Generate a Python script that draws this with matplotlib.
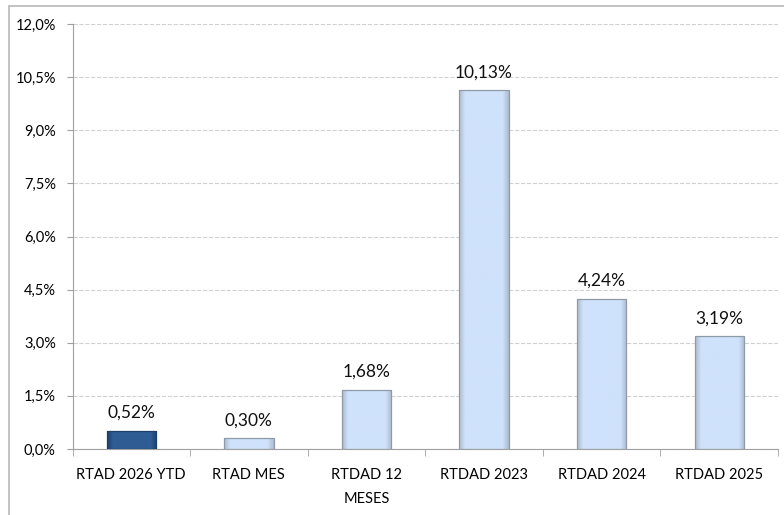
import matplotlib.pyplot as plt
import numpy as np
from matplotlib.patches import Rectangle
from matplotlib.colors import to_rgb
from matplotlib.ticker import FuncFormatter

plt.rcParams['font.family'] = ['Lato', 'DejaVu Sans']

categories = ['RTAD 2026 YTD', 'RTAD MES', 'RTDAD 12\nMESES', 'RTDAD 2023', 'RTDAD 2024', 'RTDAD 2025']
values = [0.52, 0.30, 1.68, 10.13, 4.24, 3.19]
labels = ['0,52%', '0,30%', '1,68%', '10,13%', '4,24%', '3,19%']
yticks = [0, 1.5, 3.0, 4.5, 6.0, 7.5, 9.0, 10.5, 12.0]

colors = ['#2F5D93'] + ['#CFE2FB'] * 5
edges = ['#1E3F66'] + ['#8E9AA8'] * 5
shade = ['#1F4270'] + ['#AEBCCD'] * 5

fig = plt.figure(figsize=(7.84, 5.15), dpi=100)
ax = fig.add_axes([72.5 / 784, 1 - 449 / 515, (778 - 72.5) / 784, (449 - 24) / 515])

# outer chart border
fig.patches.append(Rectangle((9 / 784, -0.1), 1.2, 1 - 6 / 515 + 0.1, transform=fig.transFigure,
                             fill=False, edgecolor='#B8B8B8', linewidth=1.2))

x = np.arange(len(categories))
bars = ax.bar(x, values, width=0.42, color=colors, edgecolor=edges, linewidth=0.9, zorder=3)

# bevel-like shading on each bar
t = np.linspace(0, 1, 60)
prof = np.clip(np.minimum(t, 1 - t) / 0.12, 0, 1)
for b, c, s in zip(bars, colors, shade):
    c1, c2 = np.array(to_rgb(c)), np.array(to_rgb(s))
    img = (c2[None, :] * (1 - prof[:, None]) + c1[None, :] * prof[:, None])[None, :, :]
    x0, y0, w, h = b.get_x(), b.get_y(), b.get_width(), b.get_height()
    im = ax.imshow(img, extent=[x0, x0 + w, y0, y0 + h], aspect='auto', zorder=3.5,
                   interpolation='bilinear')
    im.set_clip_path(b)
    b.set_zorder(4)
    b.set_facecolor('none')

for xi, v, lab in zip(x, values, labels):
    ax.annotate(lab, (xi, v), xytext=(0, 7), textcoords='offset points',
                ha='center', va='bottom', fontsize=12.5, color='#111111')

ax.set_xlim(-0.5, len(categories) - 0.5)
ax.set_ylim(0, 12)
ax.set_yticks(yticks)
ax.yaxis.set_major_formatter(FuncFormatter(lambda v, p: f'{v:.1f}%'.replace('.', ',')))
ax.set_xticks(x)
ax.set_xticklabels(categories, linespacing=1.9)
ax.set_xticks(np.arange(-0.5, len(categories)), minor=True)
ax.tick_params(axis='x', which='major', length=0, pad=14, labelsize=10.5)
ax.tick_params(axis='x', which='minor', length=5, color='#A0A0A0')
ax.tick_params(axis='y', length=4, color='#A0A0A0', pad=8, labelsize=10.5)

ax.grid(axis='y', linestyle='--', color='#D0D0D0', linewidth=0.8, zorder=0)
for s in ['top', 'right']:
    ax.spines[s].set_visible(False)
ax.spines['left'].set_color('#A0A0A0')
ax.spines['bottom'].set_color('#A0A0A0')

fig.savefig('out.png', dpi=100)
